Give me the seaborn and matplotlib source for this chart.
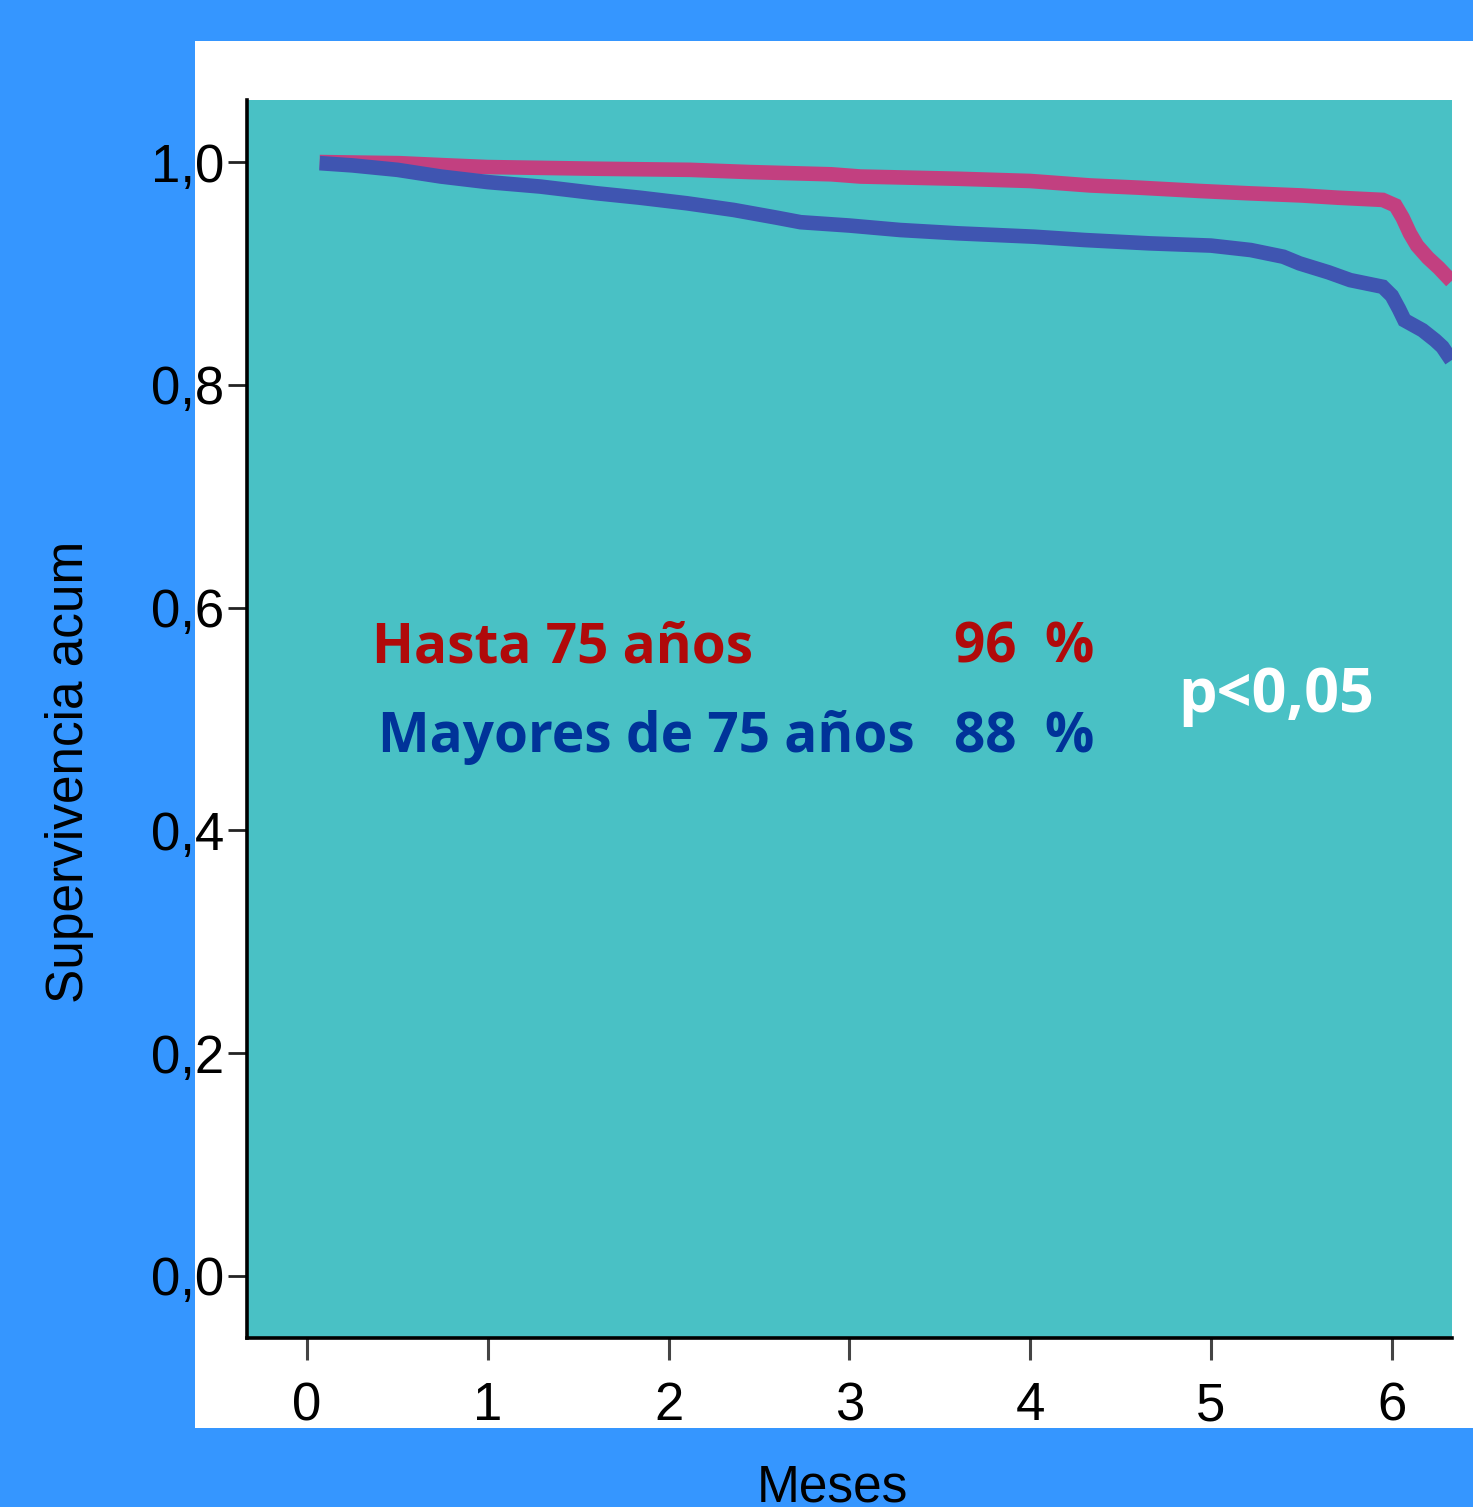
import matplotlib
matplotlib.use("Agg")
import matplotlib.pyplot as plt
from matplotlib.patches import Rectangle
import seaborn as sns
import pandas as pd

# ---- data ----
months_red = [0.07, 0.51, 0.78, 1.00, 1.60, 2.12, 2.45, 2.90, 3.06, 3.60, 4.00, 4.33, 4.60,
              4.94, 5.20, 5.50, 5.70, 5.95, 6.02, 6.06, 6.10, 6.14, 6.20, 6.26, 6.33]
surv_red = [1.000, 0.999, 0.997, 0.9955, 0.994, 0.993, 0.991, 0.989, 0.987, 0.985, 0.983, 0.979, 0.977,
            0.974, 0.972, 0.970, 0.968, 0.966, 0.961, 0.950, 0.936, 0.925, 0.914, 0.905, 0.893]

months_blue = [0.07, 0.25, 0.50, 0.74, 1.00, 1.29, 1.60, 1.84, 2.10, 2.36, 2.60, 2.73, 3.00, 3.28,
               3.60, 4.02, 4.30, 4.66, 5.00, 5.22, 5.40, 5.49, 5.65, 5.77, 5.95, 6.00, 6.04, 6.07,
               6.17, 6.24, 6.28, 6.33]
surv_blue = [0.999, 0.997, 0.993, 0.987, 0.982, 0.978, 0.972, 0.968, 0.963, 0.957, 0.950, 0.946, 0.943,
             0.939, 0.936, 0.933, 0.930, 0.927, 0.925, 0.921, 0.915, 0.909, 0.901, 0.894, 0.888, 0.880,
             0.868, 0.858, 0.849, 0.840, 0.834, 0.822]

x_ticks = [0, 1, 2, 3, 4, 5, 6]
y_ticks = [0.0, 0.2, 0.4, 0.6, 0.8, 1.0]
y_tick_labels = ["0,0", "0,2", "0,4", "0,6", "0,8", "1,0"]

group_labels = ["Hasta 75 años", "Mayores de 75 años"]
group_pcts = ["96  %", "88  %"]
p_text = "p<0,05"
x_label = "Meses"
y_label = "Supervivencia acum"

# ---- style ----
sns.set_theme(style="ticks")
plt.rcParams["font.family"] = ["Liberation Sans", "DejaVu Sans"]

W, H = 1473, 1507
fig = plt.figure(figsize=(W / 100, H / 100), dpi=100, facecolor="#3596FF")
fig.patches.append(Rectangle((195 / W, 1 - 1428 / H), (W - 195) / W, (1428 - 41) / H,
                             transform=fig.transFigure, facecolor="white",
                             edgecolor="none", zorder=-10))

ax = fig.add_axes([247 / W, 1 - 1338 / H, (1452 - 247) / W, (1338 - 100) / H])
ax.set_facecolor("#49C1C5")

df_red = pd.DataFrame({"t": months_red, "s": surv_red})
df_blue = pd.DataFrame({"t": months_blue, "s": surv_blue})
sns.lineplot(data=df_red, x="t", y="s", ax=ax, color="#C24080", linewidth=10.5,
             estimator=None, solid_capstyle="butt", solid_joinstyle="miter")
sns.lineplot(data=df_blue, x="t", y="s", ax=ax, color="#3F55B1", linewidth=10.5,
             estimator=None, solid_capstyle="butt", solid_joinstyle="miter")

ax.set_xlim(-0.332, 6.333)
ax.set_ylim(-0.0557, 1.0557)
ax.set_xticks(x_ticks)
ax.set_xticklabels([str(v) for v in x_ticks])
ax.set_yticks(y_ticks)
ax.set_yticklabels(y_tick_labels)

for side in ["top", "right"]:
    ax.spines[side].set_visible(False)
for side in ["left", "bottom"]:
    ax.spines[side].set_color("black")
    ax.spines[side].set_linewidth(2.6)

ax.tick_params(axis="y", direction="out", length=14, width=2.0, color="#222222",
               labelsize=38, pad=2.5, labelcolor="black")
ax.tick_params(axis="x", direction="out", length=16, width=2.2, color="#444444",
               labelsize=38, pad=15, labelcolor="black")

ax.set_xlabel(x_label, fontsize=37, color="black")
ax.set_ylabel(y_label, fontsize=37, color="black")
ax.xaxis.set_label_coords(0.4855, -0.101)
ax.yaxis.set_label_coords(-0.127, 0.4576)

# ---- annotations ----
bold = dict(family=["Open Sans", "DejaVu Sans"], fontweight="bold", va="baseline", ha="left")
ax.text(0.36, 0.551, group_labels[0], color="#B00A0A", fontsize=39.5, **bold)
ax.text(3.58, 0.551, group_pcts[0], color="#B00A0A", fontsize=39.5, **bold)
ax.text(0.393, 0.470, group_labels[1], color="#003399", fontsize=39.5, **bold)
ax.text(3.58, 0.470, group_pcts[1], color="#003399", fontsize=39.5, **bold)
ax.text(4.817, 0.506, p_text, color="white", fontsize=44, **bold)

fig.savefig("out.png", dpi=100, facecolor=fig.get_facecolor())
